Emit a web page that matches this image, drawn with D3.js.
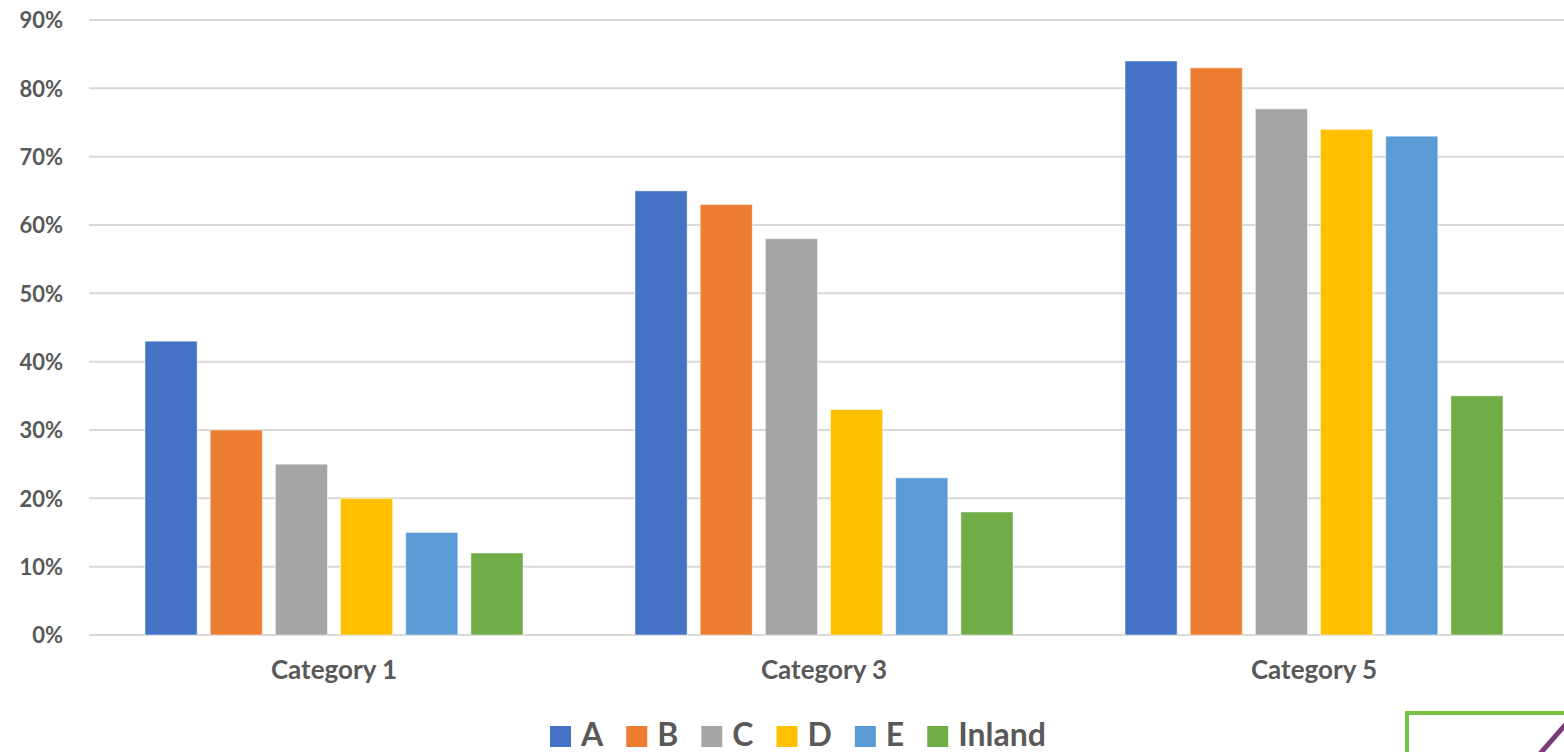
<!DOCTYPE html>
<html lang="en">
<head>
    <meta charset="utf-8">
    <title>Grouped bars by category</title>
    <script src="https://d3js.org/d3.v7.min.js"></script>
    <style>
        body { margin: 0; background: #fff; }
        text { font-family: Lato, "Open Sans", sans-serif; font-weight: 700; fill: #595959; }
    </style>
</head>
<body>
<div id="chart"></div>
<script>
// chart data
var categories = ["Category 1", "Category 3", "Category 5"];
var seriesNames = ["A", "B", "C", "D", "E", "Inland"];
var seriesA = [43, 65, 84];
var seriesB = [30, 63, 83];
var seriesC = [25, 58, 77];
var seriesD = [20, 33, 74];
var seriesE = [15, 23, 73];
var seriesInland = [12, 18, 35];
var yTicks = [0, 10, 20, 30, 40, 50, 60, 70, 80, 90];

var colors = ["#4472c4", "#ed7d31", "#a5a5a5", "#ffc000", "#5b9bd5", "#70ad47"];
var allSeries = [seriesA, seriesB, seriesC, seriesD, seriesE, seriesInland];

var width = 1564, height = 752;
var svg = d3.select("#chart").append("svg")
    .attr("width", width)
    .attr("height", height);

var x0 = d3.scaleBand().domain(categories).range([89, 1559]);
var x1 = d3.scaleBand().domain(seriesNames).range([56, 434]).paddingInner(0.2);
var y = d3.scaleLinear().domain([0, 90]).range([635, 20]);

// gridlines
svg.append("g").selectAll("line")
    .data(yTicks)
    .enter().append("line")
    .attr("x1", 89).attr("x2", width)
    .attr("y1", function(d) { return y(d); })
    .attr("y2", function(d) { return y(d); })
    .attr("stroke", "#d9d9d9")
    .attr("stroke-width", 2);

// y axis labels
var yAxis = d3.axisLeft(y).tickValues(yTicks).tickSize(0).tickPadding(0)
    .tickFormat(function(d) { return d + "%"; });
var yg = svg.append("g").attr("transform", "translate(63,0)").call(yAxis);
yg.select(".domain").remove();
yg.selectAll("text").attr("font-size", 22).attr("font-family", null).attr("fill", "#595959").attr("dy", "0.36em");

// bars
var groups = svg.append("g").selectAll("g")
    .data(categories)
    .enter().append("g")
    .attr("transform", function(d) { return "translate(" + x0(d) + ",0)"; });

groups.selectAll("rect")
    .data(function(c, ci) {
        return seriesNames.map(function(s, si) { return { s: s, i: si, v: allSeries[si][ci] }; });
    })
    .enter().append("rect")
    .attr("x", function(d) { return x1(d.s); })
    .attr("width", x1.bandwidth())
    .attr("y", function(d) { return y(d.v); })
    .attr("height", function(d) { return y(0) - y(d.v); })
    .attr("fill", function(d) { return colors[d.i]; })
    .attr("stroke", "rgba(255,255,255,0.5)")
    .attr("stroke-width", 1);

// category labels
var xAxis = d3.axisBottom(x0).tickSize(0).tickPadding(0);
var xg = svg.append("g").attr("transform", "translate(0,679)").call(xAxis);
xg.select(".domain").remove();
xg.selectAll("text").attr("font-size", 26).attr("font-family", null).attr("fill", "#595959").attr("dy", 0);

// legend
var legend = svg.append("g").attr("transform", "translate(550,0)");
var lx = 0;
seriesNames.forEach(function(name, i) {
    var item = legend.append("g").attr("transform", "translate(" + lx + ",0)");
    item.append("rect")
        .attr("x", 0).attr("y", 726)
        .attr("width", 21).attr("height", 21)
        .attr("fill", colors[i]);
    var t = item.append("text")
        .attr("x", 31).attr("y", 746)
        .attr("font-size", 32)
        .text(name);
    lx += 31 + t.node().getComputedTextLength() + 23;
});

// decorative shape in the bottom-right corner
svg.append("rect")
    .attr("x", 1407).attr("y", 713)
    .attr("width", 200).attr("height", 80)
    .attr("fill", "none")
    .attr("stroke", "#7ac143")
    .attr("stroke-width", 4);
svg.append("line")
    .attr("x1", 1566).attr("y1", 724)
    .attr("x2", 1538).attr("y2", 756)
    .attr("stroke", "#7b3b7b")
    .attr("stroke-width", 5);
</script>
</body>
</html>
